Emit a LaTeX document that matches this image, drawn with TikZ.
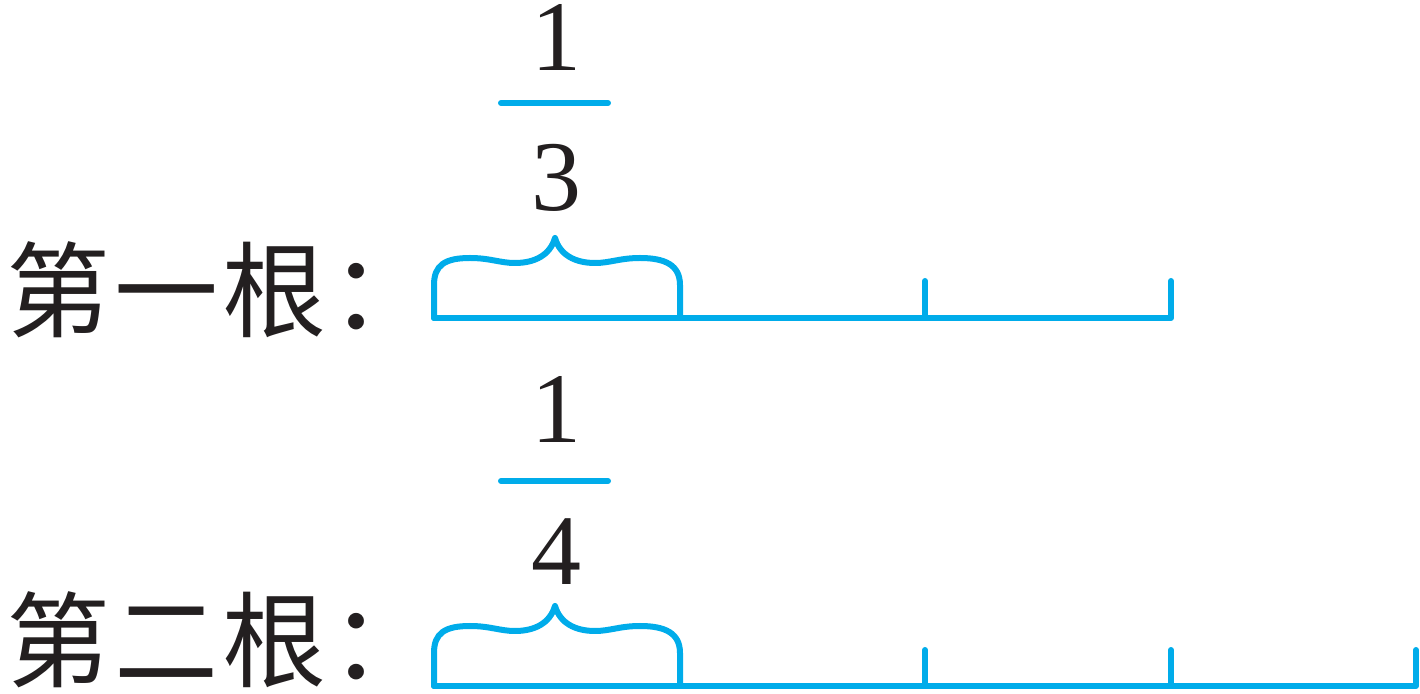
\documentclass[tikz,border=0pt]{standalone}
\usepackage{fontspec}
\setmainfont{Liberation Serif}
\newfontfamily\cjk[LetterSpace=4]{Noto Sans CJK SC}
\definecolor{rulerblue}{HTML}{00ACEA}
\definecolor{inkgray}{HTML}{231F20}
\tikzset{
  bluestroke/.style={draw=rulerblue, line width=3pt, line cap=round, line join=round},
  digit/.style={anchor=base, inner sep=0pt, text height=33.5pt, text depth=0pt, text=inkgray, font=\fontsize{50}{50}\selectfont},
  label/.style={anchor=west, inner sep=0pt, text=inkgray, font=\cjk\fontsize{52}{52}\selectfont},
  pics/curlybrace/.style={code={
    \draw[bluestroke] (0,0) -- (0,-33) .. controls (0,-53) and (11,-60) .. (36,-60)
      .. controls (56,-60) and (66,-55) .. (81,-55)
      .. controls (101,-55) and (116,-63) .. (121,-80)
      .. controls (126,-63) and (141,-55) .. (161,-55)
      .. controls (176,-55) and (186,-60) .. (206,-60)
      .. controls (231,-60) and (246,-53) .. (246,-33) -- (246,0);
  }}
}
\begin{document}
\begin{tikzpicture}[x=0.5pt, y=-0.5pt]
\useasboundingbox (0,0) rectangle (1420,694);
% row 1
\node[label] (lab1) at (6,290) {第一根：};
\node[digit] (num1) at (556,71) {1};
\node[digit] (den1) at (556,211) {3};
\coordinate (bar1l) at (501,103);
\coordinate (bar1r) at (608,103);
\draw[bluestroke] (bar1l) -- (bar1r);
\coordinate (a0) at (434,318);
\coordinate (a1) at (680,318);
\coordinate (a2) at (925,318);
\coordinate (a3) at (1171,318);
\coordinate (a2t) at (925,281);
\coordinate (a3t) at (1171,281);
\pic at (a0) {curlybrace};
\draw[bluestroke] (a0) -- (a3) -- (a3t);
\draw[bluestroke] (a2) -- (a2t);
% row 2
\node[label] (lab2) at (6,640) {第二根：};
\node[digit] (num2) at (556,443) {1};
\node[digit] (den2) at (556,585) {4};
\coordinate (bar2l) at (501,481);
\coordinate (bar2r) at (608,481);
\draw[bluestroke] (bar2l) -- (bar2r);
\coordinate (b0) at (434,686);
\coordinate (b1) at (680,686);
\coordinate (b2) at (925,686);
\coordinate (b3) at (1171,686);
\coordinate (b4) at (1416,686);
\coordinate (b2t) at (925,650);
\coordinate (b3t) at (1171,650);
\coordinate (b4t) at (1416,650);
\pic at (b0) {curlybrace};
\draw[bluestroke] (b0) -- (b4) -- (b4t);
\draw[bluestroke] (b2) -- (b2t);
\draw[bluestroke] (b3) -- (b3t);
\end{tikzpicture}
\end{document}
